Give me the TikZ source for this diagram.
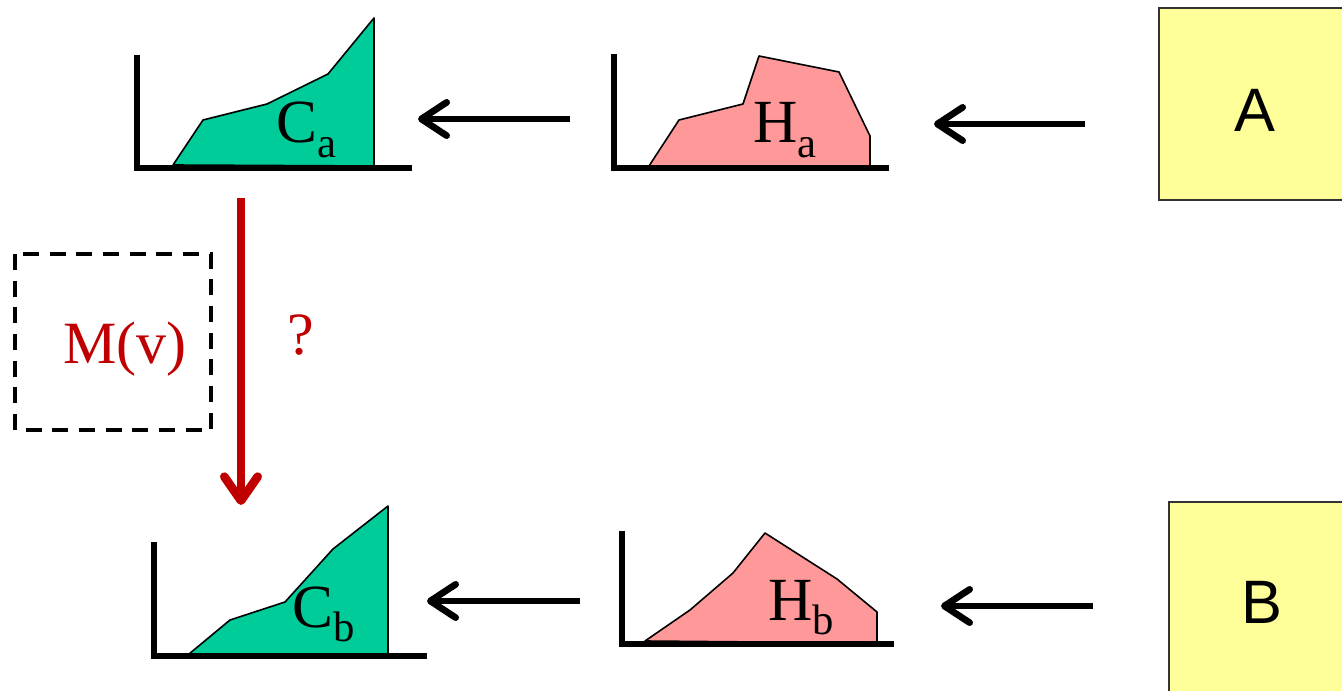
\documentclass[tikz,border=0pt]{standalone}
\usepackage{fontspec}
\setmainfont{Liberation Serif}
\newfontfamily\sansA{Liberation Sans}
\usetikzlibrary{arrows.meta}
\definecolor{cgreen}{HTML}{00CC99}
\definecolor{hpink}{HTML}{FF9999}
\definecolor{byellow}{HTML}{FFFF99}
\definecolor{dred}{HTML}{C00000}
\tikzset{
  axis/.style={line width=4.5pt, line cap=rect},
  cshape/.style={fill=cgreen, draw=black, line width=1.2pt, line join=round},
  hshape/.style={fill=hpink, draw=black, line width=1.2pt, line join=round},
  flow/.style={line width=5pt, -{Straight Barb[length=19pt,width=25pt,round]}},
  redflow/.style={draw=dred, line width=6.5pt, -{Straight Barb[length=18pt,width=25pt,round]}},
  lbl/.style={inner sep=0pt, anchor=base west, font=\fontsize{46}{46}\selectfont},
  srcbox/.style={draw=black!80, line width=1.2pt, fill=byellow},
  srctext/.style={inner sep=0pt, font=\sansA\fontsize{46}{46}\selectfont},
}
\newcommand{\subl}[1]{\raisebox{-11pt}{\fontsize{32}{32}\selectfont #1}}
\begin{document}
\begin{tikzpicture}[x=0.75pt,y=-0.75pt]
\useasboundingbox (0,0) rectangle (1342,691);
% source boxes
\draw[srcbox] (1159,8) rectangle (1350,200);
\node[srctext] (A) at (1255,110) {A};
\draw[srcbox] (1169,502) rectangle (1350,700);
\node[srctext] (B) at (1262,602) {B};
% Ca chart
\fill[cshape] (173,165) -- (203,120) -- (267,104) -- (328,74) -- (374,18) -- (374,166) -- cycle;
\draw[axis] (137,58) -- (137,168) -- (409,168);
\node[lbl] (Ca) at (276,143) {C\subl{a}};
% Ha chart
\fill[hshape] (649,166) -- (679,120) -- (743,104) -- (759,56) -- (839,72) -- (870,136) -- (870,166) -- cycle;
\draw[axis] (614,57) -- (614,168) -- (886,168);
\node[lbl] (Ha) at (753,143) {H\subl{a}};
% Cb chart
\fill[cshape] (189,654) -- (230,620) -- (285,602) -- (333,549) -- (388,506) -- (388,654) -- cycle;
\draw[axis] (154,545) -- (154,656) -- (424,656);
\node[lbl] (Cb) at (292,627) {C\subl{b}};
% Hb chart
\fill[hshape] (645,641) -- (690,610) -- (733,573) -- (765,533) -- (837,579) -- (877,612) -- (877,643) -- cycle;
\draw[axis] (622,534) -- (622,644) -- (891,644);
\node[lbl] (Hb) at (768,620) {H\subl{b}};
% arrow end points
\coordinate (a1s) at (570,119); \coordinate (a1e) at (418,119);
\coordinate (a2s) at (1085,124); \coordinate (a2e) at (934,124);
\coordinate (b1s) at (580,601); \coordinate (b1e) at (427,601);
\coordinate (b2s) at (1093,606); \coordinate (b2e) at (941,606);
\coordinate (rs) at (241,198); \coordinate (re) at (241,505);
\draw[flow] (a1s) -- (a1e);
\draw[flow] (a2s) -- (a2e);
\draw[flow] (b1s) -- (b1e);
\draw[flow] (b2s) -- (b2e);
\draw[redflow] (rs) -- (re);
% dashed box and labels
\draw[line width=2.5pt, dash pattern=on 12pt off 8pt] (15,254) rectangle (211,430);
\node[lbl, text=dred, font=\fontsize{45}{45}\selectfont] (M) at (63,364) {M(v)};
\node[lbl, text=dred, font=\fontsize{45}{45}\selectfont] (Q) at (287,355) {?};
\end{tikzpicture}
\end{document}
